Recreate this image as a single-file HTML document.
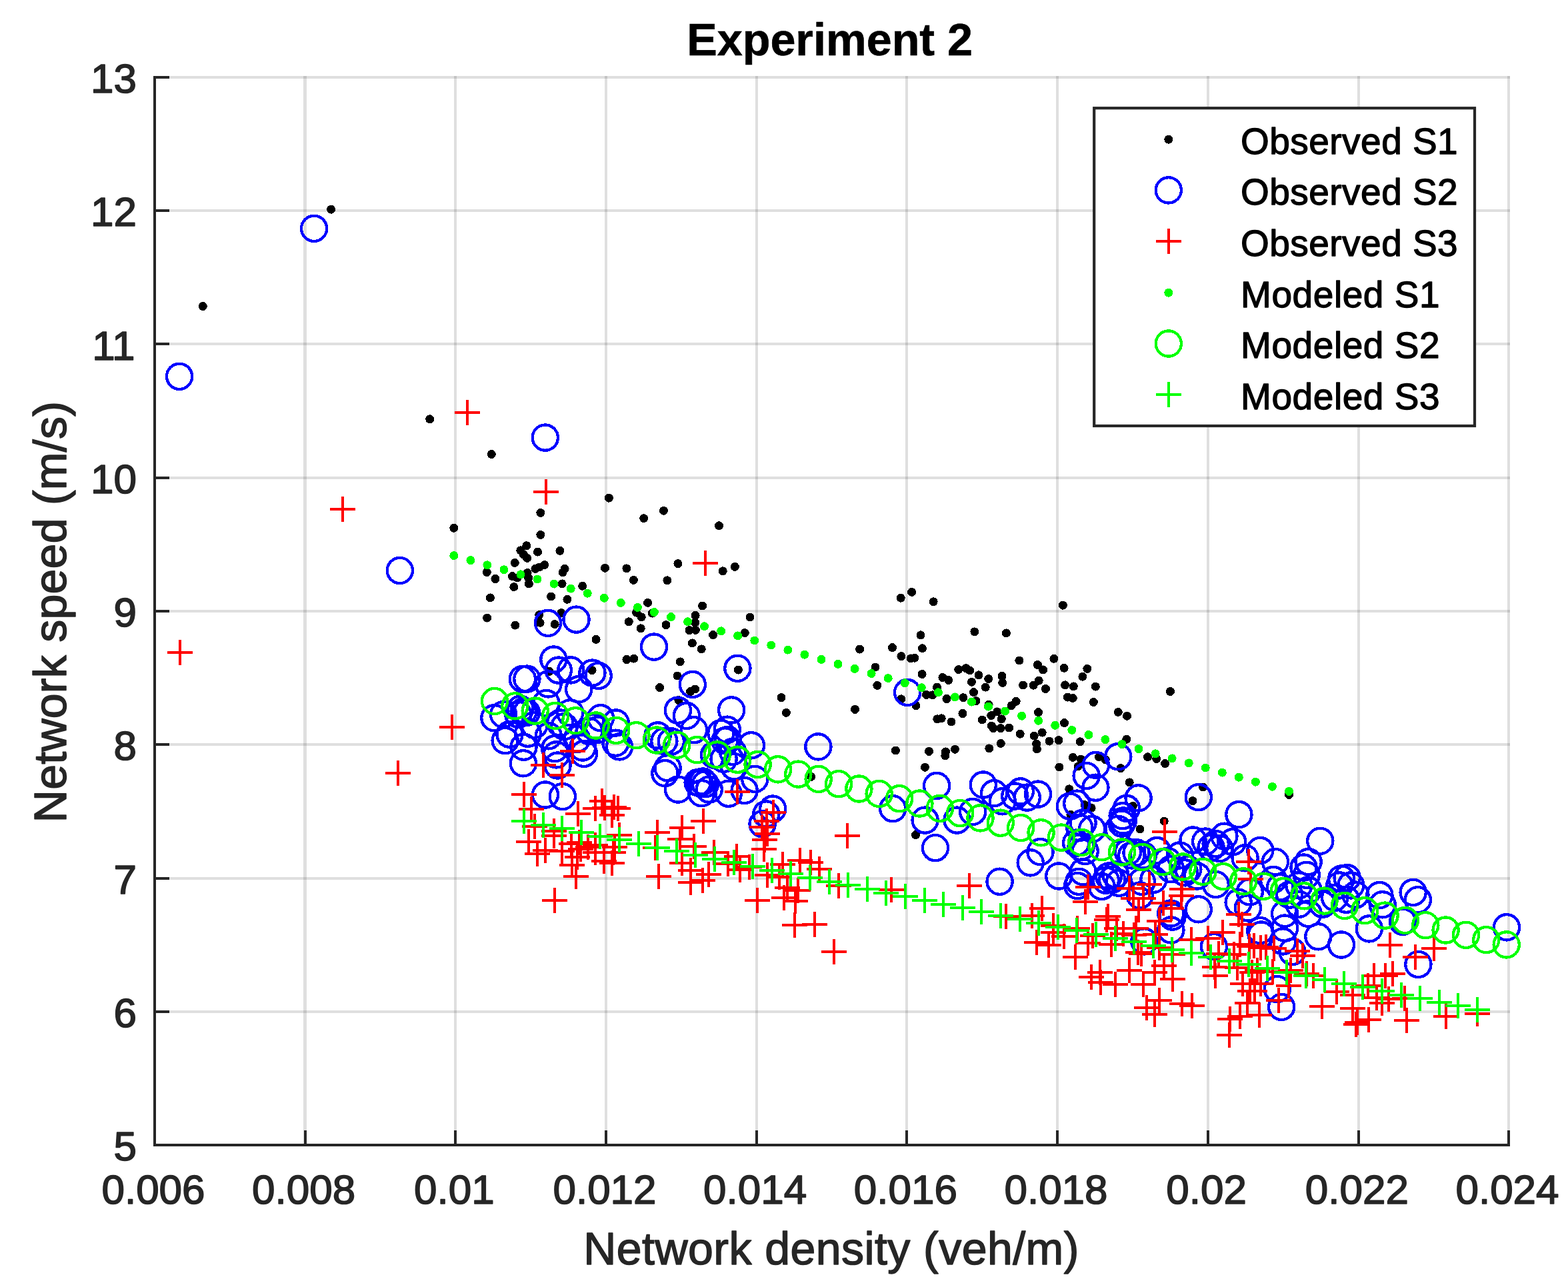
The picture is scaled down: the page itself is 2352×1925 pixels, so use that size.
<!DOCTYPE html><html><head><meta charset="utf-8"><title>Experiment 2</title>
<style>html,body{margin:0;padding:0;background:#fff}svg{display:block}text{font-family:"Liberation Sans",sans-serif}</style></head><body>
<svg width="2352" height="1925" viewBox="0 0 2352 1925">
<rect width="2352" height="1925" fill="#fff"/>
<g stroke="#262626" stroke-opacity="0.15" stroke-width="4" fill="none" shape-rendering="crispEdges">
<line x1="457.5" y1="114.0" x2="457.5" y2="1716.0" stroke-width="5"/>
<line x1="683" y1="114.0" x2="683" y2="1716.0"/>
<line x1="909" y1="114.0" x2="909" y2="1716.0"/>
<line x1="1135" y1="114.0" x2="1135" y2="1716.0"/>
<line x1="1360" y1="114.0" x2="1360" y2="1716.0"/>
<line x1="1586" y1="114.0" x2="1586" y2="1716.0"/>
<line x1="1812" y1="114.0" x2="1812" y2="1716.0"/>
<line x1="2038" y1="114.0" x2="2038" y2="1716.0"/>
<line x1="2263" y1="114.0" x2="2263" y2="1716.0"/>
<line x1="234.0" y1="1518" x2="2265.0" y2="1518"/>
<line x1="234.0" y1="1318" x2="2265.0" y2="1318"/>
<line x1="234.0" y1="1117" x2="2265.0" y2="1117"/>
<line x1="234.0" y1="917" x2="2265.0" y2="917"/>
<line x1="234.0" y1="717" x2="2265.0" y2="717"/>
<line x1="234.0" y1="516" x2="2265.0" y2="516"/>
<line x1="234.0" y1="316" x2="2265.0" y2="316"/>
<line x1="234.0" y1="116" x2="2265.0" y2="116"/>
</g>
<g stroke="#262626" stroke-width="4" fill="none" shape-rendering="crispEdges">
<line x1="232.0" y1="1718.0" x2="232.0" y2="1695.8"/>
<line x1="458.0" y1="1718.0" x2="458.0" y2="1695.8"/>
<line x1="683.0" y1="1718.0" x2="683.0" y2="1695.8"/>
<line x1="909.0" y1="1718.0" x2="909.0" y2="1695.8"/>
<line x1="1135.0" y1="1718.0" x2="1135.0" y2="1695.8"/>
<line x1="1360.0" y1="1718.0" x2="1360.0" y2="1695.8"/>
<line x1="1586.0" y1="1718.0" x2="1586.0" y2="1695.8"/>
<line x1="1812.0" y1="1718.0" x2="1812.0" y2="1695.8"/>
<line x1="2038.0" y1="1718.0" x2="2038.0" y2="1695.8"/>
<line x1="2263.0" y1="1718.0" x2="2263.0" y2="1695.8"/>
<line x1="232.0" y1="1718.0" x2="254.2" y2="1718.0"/>
<line x1="232.0" y1="1518.0" x2="254.2" y2="1518.0"/>
<line x1="232.0" y1="1318.0" x2="254.2" y2="1318.0"/>
<line x1="232.0" y1="1117.0" x2="254.2" y2="1117.0"/>
<line x1="232.0" y1="917.0" x2="254.2" y2="917.0"/>
<line x1="232.0" y1="717.0" x2="254.2" y2="717.0"/>
<line x1="232.0" y1="516.0" x2="254.2" y2="516.0"/>
<line x1="232.0" y1="316.0" x2="254.2" y2="316.0"/>
<line x1="232.0" y1="116.0" x2="254.2" y2="116.0"/>
<path d="M232.0 116.0V1718.0H2263.0" stroke-linecap="square"/>
</g>
<g fill="#262626" stroke="#262626" stroke-width="1.6" stroke-linejoin="round" font-size="62">
<text x="230.0" y="1806.3" text-anchor="middle">0.006</text>
<text x="455.7" y="1806.3" text-anchor="middle">0.008</text>
<text x="681.3" y="1806.3" text-anchor="middle">0.01</text>
<text x="907.0" y="1806.3" text-anchor="middle">0.012</text>
<text x="1132.7" y="1806.3" text-anchor="middle">0.014</text>
<text x="1358.3" y="1806.3" text-anchor="middle">0.016</text>
<text x="1584.0" y="1806.3" text-anchor="middle">0.018</text>
<text x="1809.7" y="1806.3" text-anchor="middle">0.02</text>
<text x="2035.3" y="1806.3" text-anchor="middle">0.022</text>
<text x="2261.0" y="1806.3" text-anchor="middle">0.024</text>
<text x="205.0" y="1741.1" text-anchor="end">5</text>
<text x="205.0" y="1540.8" text-anchor="end">6</text>
<text x="205.0" y="1340.6" text-anchor="end">7</text>
<text x="205.0" y="1140.3" text-anchor="end">8</text>
<text x="205.0" y="940.1" text-anchor="end">9</text>
<text x="205.0" y="739.9" text-anchor="end">10</text>
<text x="202.6" y="539.6" text-anchor="end">11</text>
<text x="205.0" y="339.4" text-anchor="end">12</text>
<text x="205.0" y="139.1" text-anchor="end">13</text>
</g>
<text x="875.3" y="1897.3" textLength="743" lengthAdjust="spacing" font-size="68" fill="#262626" stroke="#262626" stroke-width="1.5" stroke-linejoin="round">Network density (veh/m)</text>
<text transform="translate(98.8,918.2) rotate(-90)" x="-316" y="0" textLength="632" lengthAdjust="spacing" font-size="68" fill="#262626" stroke="#262626" stroke-width="1.5" stroke-linejoin="round">Network speed (m/s)</text>
<text x="1244.6" y="82.6" text-anchor="middle" font-size="68.3" font-weight="bold" fill="#000" stroke="#000" stroke-width="0.6">Experiment 2</text>
<clipPath id="c"><rect x="202.0" y="86.0" width="2091.0" height="1662.0"/></clipPath>
<g clip-path="url(#c)">
<g fill="#000" shape-rendering="crispEdges">
<circle cx="496.6" cy="314.2" r="6.5"/>
<circle cx="304.3" cy="459.5" r="6.5"/>
<circle cx="644.7" cy="628.8" r="6.5"/>
<circle cx="680.8" cy="792.3" r="6.5"/>
<circle cx="737.3" cy="681.5" r="6.5"/>
<circle cx="913.4" cy="747.2" r="6.5"/>
<circle cx="810.8" cy="769.4" r="6.5"/>
<circle cx="995.4" cy="766.3" r="6.5"/>
<circle cx="965.7" cy="777.7" r="6.5"/>
<circle cx="810.8" cy="802.4" r="6.5"/>
<circle cx="789.8" cy="818.7" r="6.5"/>
<circle cx="780.8" cy="825.8" r="6.5"/>
<circle cx="785.5" cy="832.1" r="6.5"/>
<circle cx="790.6" cy="837.4" r="6.5"/>
<circle cx="806.5" cy="828.1" r="6.5"/>
<circle cx="839.9" cy="826.4" r="6.5"/>
<circle cx="772.3" cy="844.4" r="6.5"/>
<circle cx="816.7" cy="847.6" r="6.5"/>
<circle cx="809.1" cy="851.0" r="6.5"/>
<circle cx="802.9" cy="853.4" r="6.5"/>
<circle cx="847.1" cy="853.4" r="6.5"/>
<circle cx="844.1" cy="858.9" r="6.5"/>
<circle cx="907.5" cy="852.3" r="6.5"/>
<circle cx="939.9" cy="852.9" r="6.5"/>
<circle cx="1016.9" cy="845.7" r="6.5"/>
<circle cx="730.3" cy="858.5" r="6.5"/>
<circle cx="743.0" cy="868.5" r="6.5"/>
<circle cx="768.5" cy="864.6" r="6.5"/>
<circle cx="776.0" cy="867.0" r="6.5"/>
<circle cx="791.2" cy="859.5" r="6.5"/>
<circle cx="792.7" cy="867.0" r="6.5"/>
<circle cx="793.4" cy="875.9" r="6.5"/>
<circle cx="770.8" cy="880.6" r="6.5"/>
<circle cx="843.1" cy="875.9" r="6.5"/>
<circle cx="873.7" cy="879.3" r="6.5"/>
<circle cx="950.4" cy="870.4" r="6.5"/>
<circle cx="1000.9" cy="870.8" r="6.5"/>
<circle cx="1078.5" cy="788.8" r="6.5"/>
<circle cx="1102.4" cy="850.4" r="6.5"/>
<circle cx="1084.2" cy="856.8" r="6.5"/>
<circle cx="1367.6" cy="888.4" r="6.5"/>
<circle cx="735.4" cy="896.9" r="6.5"/>
<circle cx="826.7" cy="895.0" r="6.5"/>
<circle cx="850.9" cy="899.3" r="6.5"/>
<circle cx="971.6" cy="904.4" r="6.5"/>
<circle cx="730.7" cy="927.1" r="6.5"/>
<circle cx="772.8" cy="938.1" r="6.5"/>
<circle cx="808.7" cy="922.6" r="6.5"/>
<circle cx="841.8" cy="919.6" r="6.5"/>
<circle cx="810.1" cy="934.3" r="6.5"/>
<circle cx="832.2" cy="936.6" r="6.5"/>
<circle cx="894.1" cy="959.4" r="6.5"/>
<circle cx="943.3" cy="932.8" r="6.5"/>
<circle cx="954.6" cy="919.2" r="6.5"/>
<circle cx="962.2" cy="925.8" r="6.5"/>
<circle cx="961.2" cy="942.8" r="6.5"/>
<circle cx="978.2" cy="920.1" r="6.5"/>
<circle cx="999.0" cy="937.7" r="6.5"/>
<circle cx="1034.0" cy="945.6" r="6.5"/>
<circle cx="940.0" cy="989.5" r="6.5"/>
<circle cx="950.8" cy="988.1" r="6.5"/>
<circle cx="1020.2" cy="992.9" r="6.5"/>
<circle cx="824.2" cy="1007.4" r="6.5"/>
<circle cx="888.1" cy="1005.7" r="6.5"/>
<circle cx="1016.0" cy="1014.0" r="6.5"/>
<circle cx="989.6" cy="1031.6" r="6.5"/>
<circle cx="1017.9" cy="1050.5" r="6.5"/>
<circle cx="1053.6" cy="909.0" r="6.5"/>
<circle cx="1043.1" cy="923.4" r="6.5"/>
<circle cx="1042.9" cy="934.1" r="6.5"/>
<circle cx="1043.4" cy="945.4" r="6.5"/>
<circle cx="1125.0" cy="926.0" r="6.5"/>
<circle cx="1117.3" cy="949.6" r="6.5"/>
<circle cx="1069.6" cy="952.6" r="6.5"/>
<circle cx="1038.4" cy="964.9" r="6.5"/>
<circle cx="1052.2" cy="973.9" r="6.5"/>
<circle cx="1107.4" cy="1005.1" r="6.5"/>
<circle cx="1042.7" cy="1034.0" r="6.5"/>
<circle cx="1035.6" cy="1037.5" r="6.5"/>
<circle cx="1172.0" cy="1046.7" r="6.5"/>
<circle cx="1179.4" cy="1069.4" r="6.5"/>
<circle cx="1351.2" cy="897.2" r="6.5"/>
<circle cx="1400.1" cy="902.8" r="6.5"/>
<circle cx="1381.0" cy="952.9" r="6.5"/>
<circle cx="1289.6" cy="974.1" r="6.5"/>
<circle cx="1338.5" cy="971.6" r="6.5"/>
<circle cx="1383.4" cy="972.7" r="6.5"/>
<circle cx="1351.9" cy="984.6" r="6.5"/>
<circle cx="1366.1" cy="987.9" r="6.5"/>
<circle cx="1371.8" cy="987.2" r="6.5"/>
<circle cx="1313.0" cy="1001.0" r="6.5"/>
<circle cx="1383.1" cy="1011.5" r="6.5"/>
<circle cx="1315.8" cy="1028.4" r="6.5"/>
<circle cx="1282.5" cy="1064.4" r="6.5"/>
<circle cx="1351.9" cy="1048.8" r="6.5"/>
<circle cx="1373.9" cy="1058.7" r="6.5"/>
<circle cx="1437.7" cy="1004.6" r="6.5"/>
<circle cx="1449.0" cy="1002.7" r="6.5"/>
<circle cx="1413.9" cy="1016.5" r="6.5"/>
<circle cx="1422.8" cy="1020.5" r="6.5"/>
<circle cx="1405.5" cy="1031.1" r="6.5"/>
<circle cx="1389.5" cy="1042.4" r="6.5"/>
<circle cx="1398.7" cy="1042.8" r="6.5"/>
<circle cx="1420.0" cy="1048.5" r="6.5"/>
<circle cx="1444.8" cy="1046.7" r="6.5"/>
<circle cx="1444.0" cy="1070.5" r="6.5"/>
<circle cx="1405.8" cy="1078.8" r="6.5"/>
<circle cx="1412.2" cy="1077.8" r="6.5"/>
<circle cx="1427.0" cy="1083.1" r="6.5"/>
<circle cx="1343.4" cy="1126.0" r="6.5"/>
<circle cx="1393.5" cy="1127.4" r="6.5"/>
<circle cx="1418.5" cy="1127.9" r="6.5"/>
<circle cx="1417.8" cy="1133.8" r="6.5"/>
<circle cx="1432.4" cy="1124.3" r="6.5"/>
<circle cx="1594.4" cy="908.2" r="6.5"/>
<circle cx="1461.9" cy="947.9" r="6.5"/>
<circle cx="1509.4" cy="949.9" r="6.5"/>
<circle cx="1528.9" cy="991.0" r="6.5"/>
<circle cx="1580.9" cy="988.3" r="6.5"/>
<circle cx="1556.5" cy="997.5" r="6.5"/>
<circle cx="1564.6" cy="1004.9" r="6.5"/>
<circle cx="1596.1" cy="1002.3" r="6.5"/>
<circle cx="1630.8" cy="1003.4" r="6.5"/>
<circle cx="1454.8" cy="1006.0" r="6.5"/>
<circle cx="1468.0" cy="1012.9" r="6.5"/>
<circle cx="1623.9" cy="1015.2" r="6.5"/>
<circle cx="1503.0" cy="1014.4" r="6.5"/>
<circle cx="1482.7" cy="1018.6" r="6.5"/>
<circle cx="1457.4" cy="1023.3" r="6.5"/>
<circle cx="1503.7" cy="1024.4" r="6.5"/>
<circle cx="1478.2" cy="1031.1" r="6.5"/>
<circle cx="1534.6" cy="1028.0" r="6.5"/>
<circle cx="1558.2" cy="1021.2" r="6.5"/>
<circle cx="1550.2" cy="1028.2" r="6.5"/>
<circle cx="1568.5" cy="1033.5" r="6.5"/>
<circle cx="1597.6" cy="1027.8" r="6.5"/>
<circle cx="1610.3" cy="1029.9" r="6.5"/>
<circle cx="1643.3" cy="1030.1" r="6.5"/>
<circle cx="1460.5" cy="1038.6" r="6.5"/>
<circle cx="1464.0" cy="1051.6" r="6.5"/>
<circle cx="1601.5" cy="1046.0" r="6.5"/>
<circle cx="1609.3" cy="1047.4" r="6.5"/>
<circle cx="1640.4" cy="1053.5" r="6.5"/>
<circle cx="1524.2" cy="1052.3" r="6.5"/>
<circle cx="1517.2" cy="1058.7" r="6.5"/>
<circle cx="1483.1" cy="1057.3" r="6.5"/>
<circle cx="1557.5" cy="1068.6" r="6.5"/>
<circle cx="1495.9" cy="1067.9" r="6.5"/>
<circle cx="1486.7" cy="1073.6" r="6.5"/>
<circle cx="1473.2" cy="1080.0" r="6.5"/>
<circle cx="1502.3" cy="1078.8" r="6.5"/>
<circle cx="1677.3" cy="1068.4" r="6.5"/>
<circle cx="1690.5" cy="1074.3" r="6.5"/>
<circle cx="1596.5" cy="1084.6" r="6.5"/>
<circle cx="1487.4" cy="1089.2" r="6.5"/>
<circle cx="1490.2" cy="1092.7" r="6.5"/>
<circle cx="1500.9" cy="1092.7" r="6.5"/>
<circle cx="1513.6" cy="1092.0" r="6.5"/>
<circle cx="1530.2" cy="1101.2" r="6.5"/>
<circle cx="1563.2" cy="1099.1" r="6.5"/>
<circle cx="1551.2" cy="1104.1" r="6.5"/>
<circle cx="1574.1" cy="1112.1" r="6.5"/>
<circle cx="1588.0" cy="1110.7" r="6.5"/>
<circle cx="1554.7" cy="1116.1" r="6.5"/>
<circle cx="1555.4" cy="1123.9" r="6.5"/>
<circle cx="1620.3" cy="1112.8" r="6.5"/>
<circle cx="1689.8" cy="1109.3" r="6.5"/>
<circle cx="1501.3" cy="1115.4" r="6.5"/>
<circle cx="1483.8" cy="1122.9" r="6.5"/>
<circle cx="1755.5" cy="1037.5" r="6.5"/>
<circle cx="1216.6" cy="1165.4" r="6.5"/>
<circle cx="1387.4" cy="1151.3" r="6.5"/>
<circle cx="1373.5" cy="1252.6" r="6.5"/>
<circle cx="1617.2" cy="1149.8" r="6.5"/>
<circle cx="1588.9" cy="1151.0" r="6.5"/>
<circle cx="1681.0" cy="1152.7" r="6.5"/>
<circle cx="1734.8" cy="1138.5" r="6.5"/>
<circle cx="1747.6" cy="1145.6" r="6.5"/>
<circle cx="1694.2" cy="1173.9" r="6.5"/>
<circle cx="1603.8" cy="1183.8" r="6.5"/>
<circle cx="1627.1" cy="1207.7" r="6.5"/>
<circle cx="1637.1" cy="1212.2" r="6.5"/>
<circle cx="1605.9" cy="1222.1" r="6.5"/>
<circle cx="1699.4" cy="1209.4" r="6.5"/>
<circle cx="1710.0" cy="1244.1" r="6.5"/>
<circle cx="1746.2" cy="1232.0" r="6.5"/>
<circle cx="1609.4" cy="1136.4" r="6.5"/>
<circle cx="1621.5" cy="1139.2" r="6.5"/>
<circle cx="1648.4" cy="1135.7" r="6.5"/>
<circle cx="1658.3" cy="1139.9" r="6.5"/>
<circle cx="1721.4" cy="1135.7" r="6.5"/>
<circle cx="1804.6" cy="1181.0" r="6.5"/>
<circle cx="1789.0" cy="1201.6" r="6.5"/>
<circle cx="1933.5" cy="1192.4" r="6.5"/>
</g>
<g fill="none" stroke="#0000ff" stroke-width="4.3" shape-rendering="crispEdges">
<circle cx="471.1" cy="342.8" r="19.1"/>
<circle cx="269.1" cy="564.8" r="19.1"/>
<circle cx="599.8" cy="856.0" r="19.1"/>
<circle cx="817.8" cy="656.6" r="19.1"/>
<circle cx="822.0" cy="934.9" r="19.1"/>
<circle cx="864.5" cy="929.6" r="19.1"/>
<circle cx="981.0" cy="970.6" r="19.1"/>
<circle cx="830.4" cy="989.5" r="19.1"/>
<circle cx="837.8" cy="1005.6" r="19.1"/>
<circle cx="856.3" cy="1005.4" r="19.1"/>
<circle cx="888.4" cy="1009.6" r="19.1"/>
<circle cx="897.7" cy="1013.9" r="19.1"/>
<circle cx="783.9" cy="1018.8" r="19.1"/>
<circle cx="790.4" cy="1018.6" r="19.1"/>
<circle cx="822.5" cy="1026.4" r="19.1"/>
<circle cx="868.2" cy="1034.2" r="19.1"/>
<circle cx="819.4" cy="1054.9" r="19.1"/>
<circle cx="741.4" cy="1077.2" r="19.1"/>
<circle cx="755.1" cy="1072.0" r="19.1"/>
<circle cx="780.5" cy="1063.7" r="19.1"/>
<circle cx="785.7" cy="1066.8" r="19.1"/>
<circle cx="789.9" cy="1068.9" r="19.1"/>
<circle cx="777.4" cy="1072.0" r="19.1"/>
<circle cx="855.2" cy="1069.4" r="19.1"/>
<circle cx="840.2" cy="1084.5" r="19.1"/>
<circle cx="900.9" cy="1077.2" r="19.1"/>
<circle cx="923.7" cy="1084.5" r="19.1"/>
<circle cx="891.5" cy="1090.7" r="19.1"/>
<circle cx="896.7" cy="1094.8" r="19.1"/>
<circle cx="757.7" cy="1111.1" r="19.1"/>
<circle cx="764.5" cy="1101.8" r="19.1"/>
<circle cx="785.5" cy="1120.7" r="19.1"/>
<circle cx="791.9" cy="1100.7" r="19.1"/>
<circle cx="784.9" cy="1145.3" r="19.1"/>
<circle cx="836.5" cy="1148.5" r="19.1"/>
<circle cx="817.9" cy="1192.5" r="19.1"/>
<circle cx="843.8" cy="1195.1" r="19.1"/>
<circle cx="876.0" cy="1130.8" r="19.1"/>
<circle cx="873.9" cy="1121.5" r="19.1"/>
<circle cx="834.5" cy="1132.4" r="19.1"/>
<circle cx="1106.4" cy="1002.8" r="19.1"/>
<circle cx="1038.8" cy="1026.9" r="19.1"/>
<circle cx="1016.9" cy="1065.7" r="19.1"/>
<circle cx="1029.9" cy="1073.9" r="19.1"/>
<circle cx="1097.2" cy="1065.4" r="19.1"/>
<circle cx="1041.0" cy="1095.2" r="19.1"/>
<circle cx="1090.8" cy="1094.7" r="19.1"/>
<circle cx="1081.4" cy="1099.9" r="19.1"/>
<circle cx="1091.8" cy="1109.8" r="19.1"/>
<circle cx="986.6" cy="1103.4" r="19.1"/>
<circle cx="996.4" cy="1111.9" r="19.1"/>
<circle cx="1006.8" cy="1112.4" r="19.1"/>
<circle cx="1127.0" cy="1118.3" r="19.1"/>
<circle cx="1001.6" cy="1152.3" r="19.1"/>
<circle cx="997.4" cy="1160.1" r="19.1"/>
<circle cx="1017.1" cy="1184.5" r="19.1"/>
<circle cx="1046.7" cy="1174.1" r="19.1"/>
<circle cx="1054.5" cy="1172.5" r="19.1"/>
<circle cx="1058.1" cy="1176.2" r="19.1"/>
<circle cx="1052.4" cy="1190.2" r="19.1"/>
<circle cx="1092.8" cy="1190.7" r="19.1"/>
<circle cx="1116.7" cy="1186.0" r="19.1"/>
<circle cx="1071.1" cy="1132.6" r="19.1"/>
<circle cx="1101.1" cy="1150.2" r="19.1"/>
<circle cx="1132.3" cy="1168.9" r="19.1"/>
<circle cx="1085.6" cy="1138.8" r="19.1"/>
<circle cx="923.5" cy="1114.7" r="19.1"/>
<circle cx="929.1" cy="1120.4" r="19.1"/>
<circle cx="1361.1" cy="1038.9" r="19.1"/>
<circle cx="1227.4" cy="1120.4" r="19.1"/>
<circle cx="1677.3" cy="1135.2" r="19.1"/>
<circle cx="1405.1" cy="1178.9" r="19.1"/>
<circle cx="1339.2" cy="1213.2" r="19.1"/>
<circle cx="1387.6" cy="1230.6" r="19.1"/>
<circle cx="1435.5" cy="1230.6" r="19.1"/>
<circle cx="1403.0" cy="1272.1" r="19.1"/>
<circle cx="1159.2" cy="1213.6" r="19.1"/>
<circle cx="1149.3" cy="1221.4" r="19.1"/>
<circle cx="1143.6" cy="1236.3" r="19.1"/>
<circle cx="1474.8" cy="1177.5" r="19.1"/>
<circle cx="1491.1" cy="1190.2" r="19.1"/>
<circle cx="1503.8" cy="1202.3" r="19.1"/>
<circle cx="1522.3" cy="1194.5" r="19.1"/>
<circle cx="1530.8" cy="1187.4" r="19.1"/>
<circle cx="1540.7" cy="1196.6" r="19.1"/>
<circle cx="1557.0" cy="1191.6" r="19.1"/>
<circle cx="1459.2" cy="1217.9" r="19.1"/>
<circle cx="1560.5" cy="1278.1" r="19.1"/>
<circle cx="1545.7" cy="1294.4" r="19.1"/>
<circle cx="1499.6" cy="1322.7" r="19.1"/>
<circle cx="1644.0" cy="1148.0" r="19.1"/>
<circle cx="1629.7" cy="1164.0" r="19.1"/>
<circle cx="1643.4" cy="1181.7" r="19.1"/>
<circle cx="1604.9" cy="1209.7" r="19.1"/>
<circle cx="1615.3" cy="1205.6" r="19.1"/>
<circle cx="1689.9" cy="1212.8" r="19.1"/>
<circle cx="1707.6" cy="1197.3" r="19.1"/>
<circle cx="1797.8" cy="1196.2" r="19.1"/>
<circle cx="1624.6" cy="1234.6" r="19.1"/>
<circle cx="1619.4" cy="1241.9" r="19.1"/>
<circle cx="1638.1" cy="1243.9" r="19.1"/>
<circle cx="1683.7" cy="1224.2" r="19.1"/>
<circle cx="1684.8" cy="1231.5" r="19.1"/>
<circle cx="1682.7" cy="1235.6" r="19.1"/>
<circle cx="1677.5" cy="1243.9" r="19.1"/>
<circle cx="1614.2" cy="1264.7" r="19.1"/>
<circle cx="1621.5" cy="1270.9" r="19.1"/>
<circle cx="1627.7" cy="1277.1" r="19.1"/>
<circle cx="1692.0" cy="1278.2" r="19.1"/>
<circle cx="1697.2" cy="1283.4" r="19.1"/>
<circle cx="1704.5" cy="1279.2" r="19.1"/>
<circle cx="1714.8" cy="1283.4" r="19.1"/>
<circle cx="1735.6" cy="1276.1" r="19.1"/>
<circle cx="1769.8" cy="1283.4" r="19.1"/>
<circle cx="1789.5" cy="1260.5" r="19.1"/>
<circle cx="1808.2" cy="1262.6" r="19.1"/>
<circle cx="1751.1" cy="1291.7" r="19.1"/>
<circle cx="1588.3" cy="1314.5" r="19.1"/>
<circle cx="1624.6" cy="1308.2" r="19.1"/>
<circle cx="1618.4" cy="1322.8" r="19.1"/>
<circle cx="1616.3" cy="1329.0" r="19.1"/>
<circle cx="1663.0" cy="1314.5" r="19.1"/>
<circle cx="1668.2" cy="1319.7" r="19.1"/>
<circle cx="1673.4" cy="1312.4" r="19.1"/>
<circle cx="1658.8" cy="1320.7" r="19.1"/>
<circle cx="1678.5" cy="1324.8" r="19.1"/>
<circle cx="1652.6" cy="1330.0" r="19.1"/>
<circle cx="1712.8" cy="1322.8" r="19.1"/>
<circle cx="1730.4" cy="1319.7" r="19.1"/>
<circle cx="1709.7" cy="1343.5" r="19.1"/>
<circle cx="1777.1" cy="1309.3" r="19.1"/>
<circle cx="1782.3" cy="1304.1" r="19.1"/>
<circle cx="1795.7" cy="1314.5" r="19.1"/>
<circle cx="1756.3" cy="1304.1" r="19.1"/>
<circle cx="1756.3" cy="1370.5" r="19.1"/>
<circle cx="1797.8" cy="1364.3" r="19.1"/>
<circle cx="1858.4" cy="1222.1" r="19.1"/>
<circle cx="1980.3" cy="1261.8" r="19.1"/>
<circle cx="1823.7" cy="1266.0" r="19.1"/>
<circle cx="1836.4" cy="1254.7" r="19.1"/>
<circle cx="1849.2" cy="1263.2" r="19.1"/>
<circle cx="1816.6" cy="1271.7" r="19.1"/>
<circle cx="1829.4" cy="1273.1" r="19.1"/>
<circle cx="1867.6" cy="1287.3" r="19.1"/>
<circle cx="1890.3" cy="1276.0" r="19.1"/>
<circle cx="1913.0" cy="1293.0" r="19.1"/>
<circle cx="1962.6" cy="1293.0" r="19.1"/>
<circle cx="1955.5" cy="1301.5" r="19.1"/>
<circle cx="1959.7" cy="1312.8" r="19.1"/>
<circle cx="1823.7" cy="1327.0" r="19.1"/>
<circle cx="1857.7" cy="1353.9" r="19.1"/>
<circle cx="1874.7" cy="1338.3" r="19.1"/>
<circle cx="1871.9" cy="1362.4" r="19.1"/>
<circle cx="1910.1" cy="1319.9" r="19.1"/>
<circle cx="1920.1" cy="1331.2" r="19.1"/>
<circle cx="1934.2" cy="1342.6" r="19.1"/>
<circle cx="1948.4" cy="1328.4" r="19.1"/>
<circle cx="1962.6" cy="1335.5" r="19.1"/>
<circle cx="2012.2" cy="1318.5" r="19.1"/>
<circle cx="2020.7" cy="1317.1" r="19.1"/>
<circle cx="2026.3" cy="1328.4" r="19.1"/>
<circle cx="2009.3" cy="1328.4" r="19.1"/>
<circle cx="2002.2" cy="1346.8" r="19.1"/>
<circle cx="2019.2" cy="1349.7" r="19.1"/>
<circle cx="1927.1" cy="1370.9" r="19.1"/>
<circle cx="1962.6" cy="1370.9" r="19.1"/>
<circle cx="1948.4" cy="1356.7" r="19.1"/>
<circle cx="1983.8" cy="1356.7" r="19.1"/>
<circle cx="2033.4" cy="1342.6" r="19.1"/>
<circle cx="2119.7" cy="1338.9" r="19.1"/>
<circle cx="2126.8" cy="1350.2" r="19.1"/>
<circle cx="2069.4" cy="1343.1" r="19.1"/>
<circle cx="2073.7" cy="1357.3" r="19.1"/>
<circle cx="2053.8" cy="1393.4" r="19.1"/>
<circle cx="2104.2" cy="1382.8" r="19.1"/>
<circle cx="2012.0" cy="1417.5" r="19.1"/>
<circle cx="2260.0" cy="1391.3" r="19.1"/>
<circle cx="2127.4" cy="1446.9" r="19.1"/>
<circle cx="1922.2" cy="1510.9" r="19.1"/>
<circle cx="1915.8" cy="1484.0" r="19.1"/>
<circle cx="1977.4" cy="1405.3" r="19.1"/>
<circle cx="1927.1" cy="1392.6" r="19.1"/>
<circle cx="1938.5" cy="1428.0" r="19.1"/>
<circle cx="1924.3" cy="1412.4" r="19.1"/>
<circle cx="1890.3" cy="1396.1" r="19.1"/>
<circle cx="1820.9" cy="1420.2" r="19.1"/>
<circle cx="1756.4" cy="1395.4" r="19.1"/>
<circle cx="1758.5" cy="1375.6" r="19.1"/>
<circle cx="1891.7" cy="1402.5" r="19.1"/>
<circle cx="1716.4" cy="1412.4" r="19.1"/>
<circle cx="822.8" cy="1104.3" r="19.1"/>
<circle cx="846.4" cy="1090.2" r="19.1"/>
<circle cx="801.6" cy="1087.8" r="19.1"/>
<circle cx="865.3" cy="1109.0" r="19.1"/>
<circle cx="832.3" cy="1123.2" r="19.1"/>
<circle cx="884.2" cy="1097.2" r="19.1"/>
<circle cx="1049.6" cy="1175.2" r="19.1"/>
<circle cx="1063.7" cy="1184.6" r="19.1"/>
<circle cx="1087.3" cy="1111.4" r="19.1"/>
<circle cx="1099.1" cy="1127.9" r="19.1"/>
</g>
<path d="M681.9 619.2h38.0M700.9 600.2v38.0M495.0 763.9h38.0M514.0 744.9v38.0M250.8 978.6h38.0M269.8 959.6v38.0M658.7 1090.8h38.0M677.7 1071.8v38.0M799.9 737.8h38.0M818.9 718.8v38.0M1038.9 844.9h38.0M1057.9 825.9v38.0M840.1 1126.9h38.0M859.1 1107.9v38.0M796.0 1147.9h38.0M815.0 1128.9v38.0M824.0 1162.5h38.0M843.0 1143.5v38.0M767.0 1192.0h38.0M786.0 1173.0v38.0M777.9 1213.8h38.0M796.9 1194.8v38.0M847.9 1220.9h38.0M866.9 1201.9v38.0M782.9 1239.9h38.0M801.9 1220.9v38.0M811.8 1247.0h38.0M830.8 1228.0v38.0M812.0 1253.7h38.0M831.0 1234.7v38.0M1087.0 1187.9h38.0M1106.0 1168.9v38.0M1036.0 1232.2h38.0M1055.0 1213.2v38.0M1003.8 1242.3h38.0M1022.8 1223.3v38.0M967.0 1249.1h38.0M986.0 1230.1v38.0M908.1 1212.5h38.0M927.1 1193.5v38.0M898.8 1223.4h38.0M917.8 1204.4v38.0M1252.2 1253.6h38.0M1271.2 1234.6v38.0M1141.1 1219.0h38.0M1160.1 1200.0v38.0M1131.1 1232.0h38.0M1150.1 1213.0v38.0M1131.9 1250.9h38.0M1150.9 1231.9v38.0M1127.9 1259.9h38.0M1146.9 1240.9v38.0M1126.9 1274.1h38.0M1145.9 1255.1v38.0M1181.3 1290.8h38.0M1200.3 1271.8v38.0M1196.9 1294.1h38.0M1215.9 1275.1v38.0M1154.8 1297.2h38.0M1173.8 1278.2v38.0M1210.4 1304.0h38.0M1229.4 1285.0v38.0M1239.4 1329.1h38.0M1258.4 1310.1v38.0M1318.1 1334.8h38.0M1337.1 1315.8v38.0M1150.1 1315.6h38.0M1169.1 1296.6v38.0M1162.2 1331.9h38.0M1181.2 1312.9v38.0M1177.8 1335.5h38.0M1196.8 1316.5v38.0M1157.2 1347.1h38.0M1176.2 1328.1v38.0M1174.2 1351.8h38.0M1193.2 1332.8v38.0M1727.5 1247.9h38.0M1746.5 1228.9v38.0M1613.4 1330.9h38.0M1632.4 1311.9v38.0M1608.5 1353.1h38.0M1627.5 1334.1v38.0M1675.1 1332.9h38.0M1694.1 1313.9v38.0M1704.7 1327.1h38.0M1723.7 1308.1v38.0M1681.3 1348.2h38.0M1700.3 1329.2v38.0M1696.4 1348.2h38.0M1715.4 1329.2v38.0M1753.9 1334.0h38.0M1772.9 1315.0v38.0M1753.4 1343.7h38.0M1772.4 1324.7v38.0M1726.4 1354.9h38.0M1745.4 1335.9v38.0M1737.9 1363.4h38.0M1756.9 1344.4v38.0M1688.6 1365.3h38.0M1707.6 1346.3v38.0M1642.9 1375.1h38.0M1661.9 1356.1v38.0M1854.0 1293.0h38.0M1873.0 1274.0v38.0M1857.1 1318.5h38.0M1876.1 1299.5v38.0M1838.7 1372.0h38.0M1857.7 1353.0v38.0M2065.9 1418.0h38.0M2084.9 1399.0v38.0M2131.8 1423.0h38.0M2150.8 1404.0v38.0M2103.9 1435.9h38.0M2122.9 1416.9v38.0M2069.9 1461.0h38.0M2088.9 1442.0v38.0M2059.0 1463.9h38.0M2078.0 1444.9v38.0M2041.9 1464.2h38.0M2060.9 1445.2v38.0M2033.3 1478.8h38.0M2052.3 1459.8v38.0M2088.3 1498.4h38.0M2107.3 1479.4v38.0M2063.8 1499.0h38.0M2082.8 1480.0v38.0M2046.0 1496.7h38.0M2065.0 1477.7v38.0M2054.0 1505.0h38.0M2073.0 1486.0v38.0M2033.9 1530.1h38.0M2052.9 1511.1v38.0M2090.9 1531.0h38.0M2109.9 1512.0v38.0M2150.0 1525.2h38.0M2169.0 1506.2v38.0M2196.9 1520.9h38.0M2215.9 1501.9v38.0M1844.4 1386.6h38.0M1863.4 1367.6v38.0M1814.6 1399.0h38.0M1833.6 1380.0v38.0M1768.1 1409.6h38.0M1787.1 1390.6v38.0M1792.6 1407.5h38.0M1811.6 1388.5v38.0M1840.8 1416.7h38.0M1859.8 1397.7v38.0M1855.0 1419.5h38.0M1874.0 1400.5v38.0M1862.1 1418.8h38.0M1881.1 1399.8v38.0M1872.0 1422.4h38.0M1891.0 1403.4v38.0M1879.8 1420.9h38.0M1898.8 1401.9v38.0M1891.8 1423.1h38.0M1910.8 1404.1v38.0M1927.0 1426.6h38.0M1946.0 1407.6v38.0M1935.1 1434.0h38.0M1954.1 1415.0v38.0M1808.9 1430.9h38.0M1827.9 1411.9v38.0M1831.6 1432.3h38.0M1850.6 1413.3v38.0M1802.6 1450.7h38.0M1821.6 1431.7v38.0M1804.4 1464.2h38.0M1823.4 1445.2v38.0M1836.6 1452.1h38.0M1855.6 1433.1v38.0M1858.5 1459.2h38.0M1877.5 1440.2v38.0M1867.0 1456.4h38.0M1886.0 1437.4v38.0M1889.7 1457.8h38.0M1908.7 1438.8v38.0M1916.6 1456.4h38.0M1935.6 1437.4v38.0M1940.7 1461.3h38.0M1959.7 1442.3v38.0M1950.7 1464.2h38.0M1969.7 1445.2v38.0M1845.1 1476.2h38.0M1864.1 1457.2v38.0M1872.0 1476.2h38.0M1891.0 1457.2v38.0M1856.4 1486.8h38.0M1875.4 1467.8v38.0M1862.8 1486.8h38.0M1881.8 1467.8v38.0M1913.8 1478.8h38.0M1932.8 1459.8v38.0M1898.9 1500.7h38.0M1917.9 1481.7v38.0M1852.2 1505.3h38.0M1871.2 1486.3v38.0M1869.6 1522.7h38.0M1888.6 1503.7v38.0M1840.8 1525.1h38.0M1859.8 1506.1v38.0M1825.7 1528.9h38.0M1844.7 1509.9v38.0M1825.2 1553.0h38.0M1844.2 1534.0v38.0M1964.1 1509.8h38.0M1983.1 1490.8v38.0M1985.7 1487.5h38.0M2004.7 1468.5v38.0M2009.9 1492.5h38.0M2028.9 1473.5v38.0M2009.9 1512.8h38.0M2028.9 1493.8v38.0M2015.1 1537.1h38.0M2034.1 1518.1v38.0M1739.9 1468.8h38.0M1758.9 1449.8v38.0M1754.4 1506.0h38.0M1773.4 1487.0v38.0M1769.0 1508.8h38.0M1788.0 1489.8v38.0M1739.5 1432.3h38.0M1758.5 1413.3v38.0M1544.4 1362.8h38.0M1563.4 1343.8v38.0M1489.8 1374.9h38.0M1508.8 1355.9v38.0M1528.8 1373.5h38.0M1547.8 1354.5v38.0M1560.7 1389.1h38.0M1579.7 1370.1v38.0M1560.7 1399.0h38.0M1579.7 1380.0v38.0M1577.0 1405.3h38.0M1596.0 1386.3v38.0M1535.9 1413.8h38.0M1554.9 1394.8v38.0M1553.6 1417.8h38.0M1572.6 1398.8v38.0M1594.2 1435.8h38.0M1613.2 1416.8v38.0M1596.8 1393.3h38.0M1615.8 1374.3v38.0M1620.2 1403.9h38.0M1639.2 1384.9v38.0M1613.1 1414.6h38.0M1632.1 1395.6v38.0M1640.7 1379.8h38.0M1659.7 1360.8v38.0M1656.3 1393.3h38.0M1675.3 1374.3v38.0M1684.7 1393.3h38.0M1703.7 1374.3v38.0M1666.2 1401.1h38.0M1685.2 1382.1v38.0M1681.8 1402.5h38.0M1700.8 1383.5v38.0M1647.8 1417.4h38.0M1666.8 1398.4v38.0M1720.1 1382.0h38.0M1739.1 1363.0v38.0M1714.4 1401.8h38.0M1733.4 1382.8v38.0M1687.5 1429.4h38.0M1706.5 1410.4v38.0M1692.5 1430.9h38.0M1711.5 1411.9v38.0M1720.1 1422.4h38.0M1739.1 1403.4v38.0M1675.0 1455.7h38.0M1694.0 1436.7v38.0M1630.5 1458.8h38.0M1649.5 1439.8v38.0M1618.1 1465.9h38.0M1637.1 1446.9v38.0M1631.5 1473.8h38.0M1650.5 1454.8v38.0M1653.9 1476.5h38.0M1672.9 1457.5v38.0M1696.4 1476.9h38.0M1715.4 1457.9v38.0M1726.5 1449.3h38.0M1745.5 1430.3v38.0M1713.0 1459.2h38.0M1732.0 1440.2v38.0M1720.1 1500.7h38.0M1739.1 1481.7v38.0M1700.5 1512.1h38.0M1719.5 1493.1v38.0M1713.0 1522.0h38.0M1732.0 1503.0v38.0M1172.8 1387.9h38.0M1191.8 1368.9v38.0M1203.0 1386.9h38.0M1222.0 1367.9v38.0M1231.9 1428.0h38.0M1250.9 1409.0v38.0M1434.8 1329.1h38.0M1453.8 1310.1v38.0M1001.1 1258.9h38.0M1020.1 1239.9v38.0M1021.7 1270.0h38.0M1040.7 1251.0v38.0M963.6 1272.1h38.0M982.6 1253.1v38.0M1052.1 1278.8h38.0M1071.1 1259.8v38.0M1004.0 1294.8h38.0M1023.0 1275.8v38.0M1086.2 1285.1h38.0M1105.2 1266.1v38.0M1073.4 1295.5h38.0M1092.4 1276.5v38.0M1017.4 1306.1h38.0M1036.4 1287.1v38.0M1043.9 1311.5h38.0M1062.9 1292.5v38.0M1035.1 1321.0h38.0M1054.1 1302.0v38.0M1017.0 1324.1h38.0M1036.0 1305.1v38.0M969.0 1314.6h38.0M988.0 1295.6v38.0M1091.1 1304.7h38.0M1110.1 1285.7v38.0M1104.6 1300.5h38.0M1123.6 1281.5v38.0M1117.1 1351.0h38.0M1136.1 1332.0v38.0M1131.5 1312.5h38.0M1150.5 1293.5v38.0M1123.7 1240.9h38.0M1142.7 1221.9v38.0M883.9 1202.0h38.0M902.9 1183.0v38.0M902.2 1210.5h38.0M921.2 1191.5v38.0M874.3 1213.3h38.0M893.3 1194.3v38.0M887.8 1211.9h38.0M906.8 1192.9v38.0M909.7 1253.0h38.0M928.7 1234.0v38.0M902.6 1271.1h38.0M921.6 1252.1v38.0M900.5 1279.2h38.0M919.5 1260.2v38.0M898.8 1294.8h38.0M917.8 1275.8v38.0M887.1 1292.0h38.0M906.1 1273.0v38.0M874.3 1267.9h38.0M893.3 1248.9v38.0M874.3 1279.2h38.0M893.3 1260.2v38.0M863.0 1270.7h38.0M882.0 1251.7v38.0M851.6 1273.5h38.0M870.6 1254.5v38.0M847.4 1286.3h38.0M866.4 1267.3v38.0M845.0 1314.6h38.0M864.0 1295.6v38.0M838.9 1297.6h38.0M857.9 1278.6v38.0M849.5 1263.6h38.0M868.5 1244.6v38.0M773.8 1262.8h38.0M792.8 1243.8v38.0M786.9 1281.1h38.0M805.9 1262.1v38.0M798.9 1275.8h38.0M817.9 1256.8v38.0M824.1 1276.5h38.0M843.1 1257.5v38.0M838.0 1265.5h38.0M857.0 1246.5v38.0M812.8 1350.9h38.0M831.8 1331.9v38.0M577.9 1160.0h38.0M596.9 1141.0v38.0M2016.9 1533.8h38.0M2035.9 1514.8v38.0" fill="none" stroke="#ff0000" stroke-width="4.0" shape-rendering="crispEdges"/>
<g fill="#00ff00" shape-rendering="crispEdges">
<circle cx="680.8" cy="833.6" r="6.5"/>
<circle cx="705.9" cy="840.7" r="6.5"/>
<circle cx="730.9" cy="847.8" r="6.5"/>
<circle cx="756.0" cy="854.8" r="6.5"/>
<circle cx="781.0" cy="861.9" r="6.5"/>
<circle cx="806.1" cy="869.0" r="6.5"/>
<circle cx="831.1" cy="876.1" r="6.5"/>
<circle cx="856.2" cy="883.1" r="6.5"/>
<circle cx="881.2" cy="890.2" r="6.5"/>
<circle cx="906.3" cy="897.3" r="6.5"/>
<circle cx="931.3" cy="904.4" r="6.5"/>
<circle cx="956.4" cy="911.4" r="6.5"/>
<circle cx="981.4" cy="918.5" r="6.5"/>
<circle cx="1006.5" cy="925.6" r="6.5"/>
<circle cx="1031.6" cy="932.7" r="6.5"/>
<circle cx="1056.6" cy="939.7" r="6.5"/>
<circle cx="1081.7" cy="946.8" r="6.5"/>
<circle cx="1106.7" cy="953.9" r="6.5"/>
<circle cx="1131.8" cy="961.0" r="6.5"/>
<circle cx="1156.8" cy="968.0" r="6.5"/>
<circle cx="1181.9" cy="975.1" r="6.5"/>
<circle cx="1206.9" cy="982.2" r="6.5"/>
<circle cx="1232.0" cy="989.3" r="6.5"/>
<circle cx="1257.0" cy="996.3" r="6.5"/>
<circle cx="1282.1" cy="1003.4" r="6.5"/>
<circle cx="1307.1" cy="1010.5" r="6.5"/>
<circle cx="1332.2" cy="1017.6" r="6.5"/>
<circle cx="1357.3" cy="1024.7" r="6.5"/>
<circle cx="1382.3" cy="1031.7" r="6.5"/>
<circle cx="1407.4" cy="1038.8" r="6.5"/>
<circle cx="1432.4" cy="1045.9" r="6.5"/>
<circle cx="1457.5" cy="1053.0" r="6.5"/>
<circle cx="1482.5" cy="1060.0" r="6.5"/>
<circle cx="1507.6" cy="1067.1" r="6.5"/>
<circle cx="1532.6" cy="1074.2" r="6.5"/>
<circle cx="1557.7" cy="1081.3" r="6.5"/>
<circle cx="1582.7" cy="1088.3" r="6.5"/>
<circle cx="1607.8" cy="1095.4" r="6.5"/>
<circle cx="1632.9" cy="1102.5" r="6.5"/>
<circle cx="1657.9" cy="1109.6" r="6.5"/>
<circle cx="1683.0" cy="1116.6" r="6.5"/>
<circle cx="1708.0" cy="1123.7" r="6.5"/>
<circle cx="1733.1" cy="1130.8" r="6.5"/>
<circle cx="1758.1" cy="1137.9" r="6.5"/>
<circle cx="1783.2" cy="1144.9" r="6.5"/>
<circle cx="1808.2" cy="1152.0" r="6.5"/>
<circle cx="1833.3" cy="1159.1" r="6.5"/>
<circle cx="1858.3" cy="1166.2" r="6.5"/>
<circle cx="1883.4" cy="1173.2" r="6.5"/>
<circle cx="1908.4" cy="1180.3" r="6.5"/>
<circle cx="1933.5" cy="1187.4" r="6.5"/>
</g>
<g fill="none" stroke="#00ff00" stroke-width="4.3" shape-rendering="crispEdges">
<circle cx="742.0" cy="1052.0" r="19.1"/>
<circle cx="772.4" cy="1059.3" r="19.1"/>
<circle cx="802.7" cy="1066.6" r="19.1"/>
<circle cx="833.1" cy="1073.9" r="19.1"/>
<circle cx="863.4" cy="1081.2" r="19.1"/>
<circle cx="893.8" cy="1088.5" r="19.1"/>
<circle cx="924.1" cy="1095.8" r="19.1"/>
<circle cx="954.5" cy="1103.2" r="19.1"/>
<circle cx="984.8" cy="1110.5" r="19.1"/>
<circle cx="1015.2" cy="1117.8" r="19.1"/>
<circle cx="1045.5" cy="1125.1" r="19.1"/>
<circle cx="1075.9" cy="1132.4" r="19.1"/>
<circle cx="1106.2" cy="1139.7" r="19.1"/>
<circle cx="1136.6" cy="1147.0" r="19.1"/>
<circle cx="1167.0" cy="1154.3" r="19.1"/>
<circle cx="1197.3" cy="1161.6" r="19.1"/>
<circle cx="1227.7" cy="1168.9" r="19.1"/>
<circle cx="1258.0" cy="1176.2" r="19.1"/>
<circle cx="1288.4" cy="1183.5" r="19.1"/>
<circle cx="1318.7" cy="1190.9" r="19.1"/>
<circle cx="1349.1" cy="1198.2" r="19.1"/>
<circle cx="1379.4" cy="1205.5" r="19.1"/>
<circle cx="1409.8" cy="1212.8" r="19.1"/>
<circle cx="1440.1" cy="1220.1" r="19.1"/>
<circle cx="1470.5" cy="1227.4" r="19.1"/>
<circle cx="1500.8" cy="1234.7" r="19.1"/>
<circle cx="1531.2" cy="1242.0" r="19.1"/>
<circle cx="1561.6" cy="1249.3" r="19.1"/>
<circle cx="1591.9" cy="1256.6" r="19.1"/>
<circle cx="1622.3" cy="1263.9" r="19.1"/>
<circle cx="1652.6" cy="1271.2" r="19.1"/>
<circle cx="1683.0" cy="1278.5" r="19.1"/>
<circle cx="1713.3" cy="1285.9" r="19.1"/>
<circle cx="1743.7" cy="1293.2" r="19.1"/>
<circle cx="1774.0" cy="1300.5" r="19.1"/>
<circle cx="1804.4" cy="1307.8" r="19.1"/>
<circle cx="1834.7" cy="1315.1" r="19.1"/>
<circle cx="1865.1" cy="1322.4" r="19.1"/>
<circle cx="1895.5" cy="1329.7" r="19.1"/>
<circle cx="1925.8" cy="1337.0" r="19.1"/>
<circle cx="1956.2" cy="1344.3" r="19.1"/>
<circle cx="1986.5" cy="1351.6" r="19.1"/>
<circle cx="2016.9" cy="1358.9" r="19.1"/>
<circle cx="2047.2" cy="1366.2" r="19.1"/>
<circle cx="2077.6" cy="1373.6" r="19.1"/>
<circle cx="2107.9" cy="1380.9" r="19.1"/>
<circle cx="2138.3" cy="1388.2" r="19.1"/>
<circle cx="2168.6" cy="1395.5" r="19.1"/>
<circle cx="2199.0" cy="1402.8" r="19.1"/>
<circle cx="2229.3" cy="1410.1" r="19.1"/>
<circle cx="2259.7" cy="1417.4" r="19.1"/>
</g>
<path d="M767.0 1232.1h38.0M786.0 1213.1v38.0M795.6 1237.8h38.0M814.6 1218.8v38.0M824.2 1243.4h38.0M843.2 1224.4v38.0M852.8 1249.1h38.0M871.8 1230.1v38.0M881.4 1254.7h38.0M900.4 1235.7v38.0M910.0 1260.4h38.0M929.0 1241.4v38.0M938.6 1266.1h38.0M957.6 1247.1v38.0M967.2 1271.7h38.0M986.2 1252.7v38.0M995.8 1277.4h38.0M1014.8 1258.4v38.0M1024.4 1283.0h38.0M1043.4 1264.0v38.0M1053.0 1288.7h38.0M1072.0 1269.7v38.0M1081.6 1294.4h38.0M1100.6 1275.4v38.0M1110.2 1300.0h38.0M1129.2 1281.0v38.0M1138.8 1305.7h38.0M1157.8 1286.7v38.0M1167.4 1311.3h38.0M1186.4 1292.3v38.0M1196.0 1317.0h38.0M1215.0 1298.0v38.0M1224.6 1322.7h38.0M1243.6 1303.7v38.0M1253.2 1328.3h38.0M1272.2 1309.3v38.0M1281.8 1334.0h38.0M1300.8 1315.0v38.0M1310.4 1339.6h38.0M1329.4 1320.6v38.0M1339.0 1345.3h38.0M1358.0 1326.3v38.0M1367.6 1351.0h38.0M1386.6 1332.0v38.0M1396.2 1356.6h38.0M1415.2 1337.6v38.0M1424.8 1362.3h38.0M1443.8 1343.3v38.0M1453.4 1367.9h38.0M1472.4 1348.9v38.0M1482.0 1373.6h38.0M1501.0 1354.6v38.0M1510.6 1379.3h38.0M1529.6 1360.3v38.0M1539.2 1384.9h38.0M1558.2 1365.9v38.0M1567.8 1390.6h38.0M1586.8 1371.6v38.0M1596.4 1396.2h38.0M1615.4 1377.2v38.0M1625.0 1401.9h38.0M1644.0 1382.9v38.0M1653.6 1407.6h38.0M1672.6 1388.6v38.0M1682.2 1413.2h38.0M1701.2 1394.2v38.0M1710.8 1418.9h38.0M1729.8 1399.9v38.0M1739.4 1424.5h38.0M1758.4 1405.5v38.0M1768.0 1430.2h38.0M1787.0 1411.2v38.0M1796.6 1435.9h38.0M1815.6 1416.9v38.0M1825.2 1441.5h38.0M1844.2 1422.5v38.0M1853.8 1447.2h38.0M1872.8 1428.2v38.0M1882.4 1452.8h38.0M1901.4 1433.8v38.0M1911.0 1458.5h38.0M1930.0 1439.5v38.0M1939.6 1464.2h38.0M1958.6 1445.2v38.0M1968.2 1469.8h38.0M1987.2 1450.8v38.0M1996.8 1475.5h38.0M2015.8 1456.5v38.0M2025.4 1481.1h38.0M2044.4 1462.1v38.0M2054.0 1486.8h38.0M2073.0 1467.8v38.0M2082.6 1492.5h38.0M2101.6 1473.5v38.0M2111.2 1498.1h38.0M2130.2 1479.1v38.0M2139.8 1503.8h38.0M2158.8 1484.8v38.0M2168.4 1509.4h38.0M2187.4 1490.4v38.0M2197.0 1515.1h38.0M2216.0 1496.1v38.0" fill="none" stroke="#00ff00" stroke-width="4.0" shape-rendering="crispEdges"/>
</g>
<rect x="1641.2" y="162.2" width="570.8" height="476.8" fill="#fff" stroke="#262626" stroke-width="4.2"/>
<g fill="#000" shape-rendering="crispEdges">
<circle cx="1752.8" cy="209.2" r="6.5"/>
</g>
<g fill="none" stroke="#0000ff" stroke-width="4.3" shape-rendering="crispEdges">
<circle cx="1752.8" cy="285.4" r="19.1"/>
</g>
<path d="M1733.8 362.0h38.0M1752.8 343.0v38.0" fill="none" stroke="#ff0000" stroke-width="4.0" shape-rendering="crispEdges"/>
<g fill="#00ff00" shape-rendering="crispEdges">
<circle cx="1752.8" cy="439.2" r="6.5"/>
</g>
<g fill="none" stroke="#00ff00" stroke-width="4.3" shape-rendering="crispEdges">
<circle cx="1752.8" cy="515.5" r="19.1"/>
</g>
<path d="M1733.8 592.0h38.0M1752.8 573.0v38.0" fill="none" stroke="#00ff00" stroke-width="4.0" shape-rendering="crispEdges"/>
<g fill="#000" stroke="#000" stroke-width="1.3" stroke-linejoin="round" font-size="55">
<text x="1861" y="230.9" textLength="325.7" lengthAdjust="spacing">Observed S1</text>
<text x="1861" y="307.1" textLength="325.7" lengthAdjust="spacing">Observed S2</text>
<text x="1861" y="383.7" textLength="325.7" lengthAdjust="spacing">Observed S3</text>
<text x="1861" y="460.9" textLength="298.7" lengthAdjust="spacing">Modeled S1</text>
<text x="1861" y="537.2" textLength="298.7" lengthAdjust="spacing">Modeled S2</text>
<text x="1861" y="613.7" textLength="298.7" lengthAdjust="spacing">Modeled S3</text>
</g>
</svg></body></html>
